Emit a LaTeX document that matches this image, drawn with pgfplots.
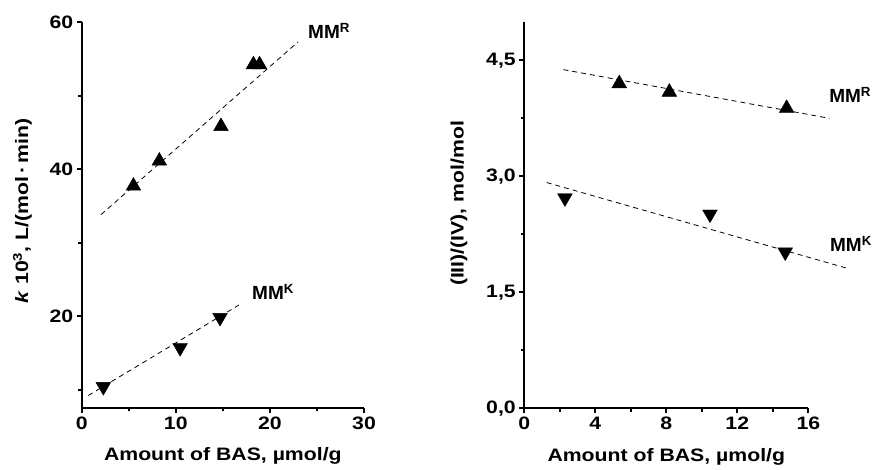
\documentclass[border=0pt]{standalone}
\usepackage{pgfplots}
\pgfplotsset{compat=1.18}
\usepackage{fontspec}
\setmainfont{Liberation Sans}[FakeStretch=1.18]
\newfontfamily\plainsans{Liberation Sans}

\begin{document}
\begin{tikzpicture}[font=\fontsize{18}{22}\selectfont\bfseries]
\path[use as bounding box] (0,0) rectangle (874pt,470pt);
\tikzset{mm/.style={anchor=base west, inner sep=0pt, font=\plainsans\fontsize{19}{22}\selectfont\bfseries}}
\pgfplotsset{
  panel/.style={
    scale only axis, axis lines=left, axis line style={-, line width=2pt},
    tick align=outside, major tick length=5pt, minor tick length=3.5pt,
    every tick/.style={black, line width=2pt},
    tick label style={font=\fontsize{18}{22}\selectfont\bfseries},
    label style={font=\fontsize{18}{22}\selectfont\bfseries},
    /pgf/number format/assume math mode=true,
    clip=false,
  },
  fitline/.style={black, line width=0.8pt, dash pattern=on 5pt off 4pt},
  up/.style={only marks, mark=triangle*, mark size=8.5pt, black},
  down/.style={only marks, mark=triangle*, mark size=8.5pt, black, mark options={rotate=180}},
}

% left panel: rate constant
\begin{axis}[panel, at={(81.7pt,62pt)}, anchor=south west,
  width=282.3pt, height=386pt,
  xmin=0, xmax=30, ymin=7.5, ymax=60,
  xtick={0,10,20,30}, minor xtick={5,15,25},
  ytick={20,40,60}, minor ytick={10,30,50},
  xlabel={Amount of BAS, µmol/g},
  ylabel={\textit{k} 10\textsuperscript{3}, L/(mol\,·\,min)},
  xlabel style={at={(axis description cs:0.5,-0.125)}, anchor=center},
  ylabel style={at={(axis description cs:-0.21,0.51)}, anchor=center}]
  \addplot[fitline] coordinates {(2.05,33.8)(23.0,57.3)};
  \addplot[up] coordinates {(5.5,37.7)(8.25,41.1)(14.8,45.8)(18.25,54.2)(18.9,54.2)};
  \addplot[fitline] coordinates {(0.7,9.2)(16.7,21.5)};
  \addplot[down] coordinates {(2.3,10.4)(10.46,15.7)(14.7,19.8)};
  \node[mm] at (axis cs:24.05,57.7) {MM\textsuperscript{R}};
  \node[mm] at (axis cs:18.1,22.2) {MM\textsuperscript{K}};
\end{axis}

% right panel: (III)/(IV) ratio
\begin{axis}[panel, at={(524.3pt,61.7pt)}, anchor=south west,
  width=284pt, height=386.6pt,
  xmin=0, xmax=16, ymin=0, ymax=5,
  xtick={0,4,8,12,16}, minor xtick={2,6,10,14},
  ytick={0,1.5,3,4.5}, minor ytick={0.75,2.25,3.75},
  yticklabel style={/pgf/number format/.cd, fixed, fixed zerofill, precision=1, use comma},
  xlabel={Amount of BAS, µmol/g},
  ylabel={(III)/(IV), mol/mol},
  xlabel style={at={(axis description cs:0.5,-0.125)}, anchor=center},
  ylabel style={at={(axis description cs:-0.23,0.53)}, anchor=center}]
  \addplot[fitline] coordinates {(2.2,4.38)(17.2,3.75)};
  \addplot[up] coordinates {(5.35,4.20)(8.17,4.09)(14.78,3.88)};
  \addplot[fitline] coordinates {(1.26,2.92)(18.2,1.81)};
  \addplot[down] coordinates {(2.29,2.72)(10.46,2.51)(14.7,2.02)};
  \node[mm] at (axis cs:17.17,3.95) {MM\textsuperscript{R}};
  \node[mm] at (axis cs:17.22,2.03) {MM\textsuperscript{K}};
\end{axis}
\end{tikzpicture}
\end{document}
